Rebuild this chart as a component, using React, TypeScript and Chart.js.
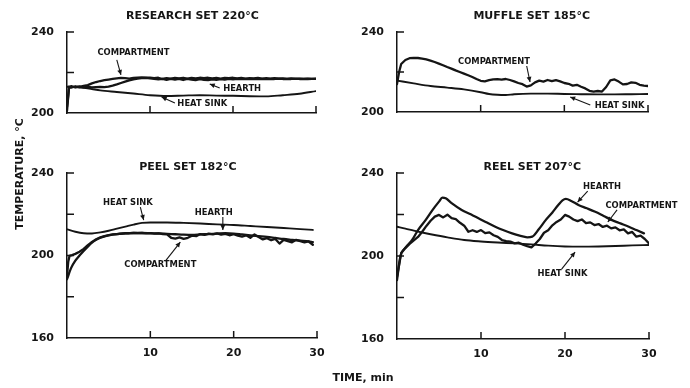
import { useEffect, useRef } from "react";
import { Chart, registerables } from "chart.js";
Chart.register(...registerables);

const FONT = '"DejaVu Sans", "Liberation Sans", sans-serif';
const INK = "#151515";

// ---------- shared tick values ----------
const xTickValues = [10, 20, 30];
const xLabelValues = [10, 20, 30];
const topYTicks = [220, 240];
const bottomYTicks = [180, 200, 220, 240];
const yLabelValues = [160, 200, 240];

// ---------- time bases (minutes) ----------
const halfMinuteTimes = [0, 0.25, 0.5, 1, 1.5, 2, 2.5, 3, 3.5, 4, 4.5, 5, 5.5, 6, 6.5, 7, 7.5, 8, 8.5, 9, 9.5, 10, 10.5, 11, 11.5, 12, 12.5, 13, 13.5, 14, 14.5, 15, 15.5, 16, 16.5, 17, 17.5, 18, 18.5, 19, 19.5, 20, 20.5, 21, 21.5, 22, 22.5, 23, 23.5, 24, 24.5, 25, 25.5, 26, 26.5, 27, 27.5, 28, 28.5, 29, 29.5, 30];

// ---------- RESEARCH SET 220°C ----------
const researchCompartment = [201, 213, 212.5, 213.2, 212.8, 213.4, 213.8, 214.6, 215.3, 215.8, 216.2, 216.5, 216.8, 217.1, 217.3, 217.2, 217.0, 217.3, 217.5, 217.6, 217.4, 217.5, 217.2, 217.4, 216.8, 217.2, 217.0, 217.3, 217.1, 217.4, 217.0, 217.3, 217.1, 217.4, 217.2, 217.4, 217.1, 217.3, 217.0, 217.3, 217.2, 217.4, 217.1, 217.3, 217.0, 217.2, 217.1, 217.3, 217.0, 217.2, 217.0, 217.2, 217.0, 217.1, 216.9, 217.1, 216.9, 217.0, 216.8, 217.0, 216.9, 217.0];
const researchHearth = [203, 212.5, 213.3, 212.6, 213.1, 212.7, 212.9, 212.6, 212.8, 212.9, 212.8, 213.0, 213.5, 214.1, 214.8, 215.5, 216.1, 216.6, 217.0, 217.2, 217.3, 217.1, 216.9, 216.6, 216.9, 216.4, 216.8, 216.5, 216.9, 216.3, 216.8, 216.5, 216.2, 216.7, 216.4, 216.2, 216.6, 216.4, 216.7, 216.5, 216.8, 216.6, 216.9, 216.7, 216.9, 216.7, 216.9, 216.8, 216.9, 216.7, 216.9, 216.8, 217.0, 216.8, 216.9, 216.8, 217.0, 216.8, 216.9, 216.8, 216.9, 216.9];
const researchSinkTime = [0, 0.3, 1, 2, 3, 4, 6, 8, 10, 12, 14, 16, 18, 20, 22, 24, 26, 28, 30];
const researchSink = [213, 213, 212.8, 212.4, 211.8, 211.2, 210.4, 209.6, 208.8, 208.4, 208.6, 208.8, 208.6, 208.5, 208.3, 208.2, 208.8, 209.5, 210.8];

// ---------- MUFFLE SET 185°C ----------
const muffleCompartment = [214, 220, 224, 226, 226.9, 227.1, 227.0, 226.7, 226.3, 225.7, 225.0, 224.2, 223.4, 222.5, 221.7, 220.8, 220.0, 219.2, 218.4, 217.5, 216.5, 215.6, 215.3, 215.9, 216.3, 216.4, 216.2, 216.5, 216.0, 215.3, 214.5, 213.9, 212.7, 213.3, 214.8, 215.7, 215.2, 216.0, 215.4, 215.9, 215.3, 214.5, 214.1, 213.2, 213.6, 212.6, 211.8, 210.6, 210.2, 210.5, 210.2, 212.5, 215.8, 216.3, 215.2, 213.8, 214.0, 214.8, 214.6, 213.6, 213.2, 213.0];
const muffleSinkTime = [0, 2, 4, 6, 8, 10, 11, 12, 13, 14, 16, 18, 20, 22, 24, 26, 28, 30];
const muffleSink = [215.7, 214.3, 213.0, 212.2, 211.3, 209.9, 209.0, 208.6, 208.5, 208.9, 209.2, 209.2, 209.0, 208.9, 208.8, 208.8, 208.9, 209.0];

// ---------- PEEL SET 182°C ----------
const peelSinkTime = [0, 1, 2, 3, 4, 5, 6, 7, 8, 9, 10, 12, 14, 16, 18, 20, 22, 24, 26, 28, 29.5];
const peelSink = [212.7, 211.5, 210.8, 210.7, 211.2, 212.0, 213.0, 214.0, 215.0, 215.8, 216.0, 216.0, 215.8, 215.5, 215.1, 214.8, 214.3, 213.8, 213.3, 212.8, 212.4];
const peelHearthTime = [0, 0.5, 1, 1.5, 2, 2.5, 3, 3.5, 4, 4.5, 5, 6, 7, 8, 9, 10, 11, 12, 13, 14, 15, 16, 17, 18, 19, 20, 21, 22, 23, 24, 25, 26, 27, 28, 29, 29.5];
const peelHearth = [188.5, 194, 197.5, 200, 202.2, 204.3, 206.2, 207.6, 208.6, 209.3, 209.8, 210.4, 210.7, 210.9, 210.9, 210.8, 210.7, 210.5, 210.3, 210.1, 210.0, 210.2, 210.4, 210.6, 210.8, 210.6, 210.2, 209.8, 209.4, 209.0, 208.5, 208.0, 207.6, 207.2, 206.8, 206.5];
const peelCompartmentTime = [0, 0.15, 0.3, 0.6, 1, 1.5, 2, 2.5, 3, 3.5, 4, 4.5, 5, 5.5, 6, 6.5, 7, 7.5, 8, 8.5, 9, 9.5, 10, 10.5, 11, 11.5, 12, 12.5, 13, 13.5, 14, 14.5, 15, 15.5, 16, 16.5, 17, 17.5, 18, 18.5, 19, 19.5, 20, 20.5, 21, 21.5, 22, 22.5, 23, 23.5, 24, 24.5, 25, 25.5, 26, 26.5, 27, 27.5, 28, 28.5, 29, 29.5];
const peelCompartment = [190, 197, 199.8, 200.2, 200.8, 201.8, 203.2, 205, 206.6, 207.9, 208.8, 209.4, 209.9, 210.2, 210.4, 210.6, 210.8, 210.8, 210.9, 210.8, 210.9, 210.7, 210.8, 210.6, 210.7, 210.4, 210.2, 208.6, 208.2, 208.8, 208.1, 208.6, 209.6, 209.4, 210.4, 210.0, 210.6, 210.2, 210.7, 210.1, 210.5, 209.8, 210.3, 209.6, 209.2, 209.8, 208.6, 210.2, 209.0, 207.8, 208.4, 207.4, 208.0, 205.8, 207.6, 207.0, 206.4, 207.6, 207.0, 206.4, 206.8, 205.2];

// ---------- REEL SET 207°C ----------
const reelHearthTime = [0, 0.4, 1, 1.8, 2.5, 3.4, 4.2, 5, 5.4, 5.8, 6.5, 7.7, 8.7, 9.7, 10.7, 11.7, 12.7, 13.7, 14.6, 15.5, 16.1, 16.9, 17.7, 18.5, 19.2, 19.7, 20.1, 20.8, 21.6, 22.6, 23.6, 24.6, 25.6, 26.6, 27.6, 28.5, 29.4];
const reelHearth = [188.4, 199.7, 204, 207.7, 212.5, 217.3, 222, 226.2, 228.1, 227.8, 225.5, 222.2, 220.2, 218.2, 216.1, 214.1, 212.4, 210.9, 209.8, 209.0, 209.3, 213, 217.3, 221, 224.6, 226.8, 227.5, 226.4, 224.6, 223.0, 221.3, 219.3, 217.3, 215.7, 214.1, 212.5, 210.9];
const reelCompartmentTime = [0, 0.5, 1, 1.5, 2, 2.5, 3, 3.5, 4, 4.5, 5, 5.5, 6, 6.5, 7, 7.5, 8, 8.5, 9, 9.5, 10, 10.5, 11, 11.5, 12, 12.5, 13, 13.5, 14, 14.5, 15, 15.5, 16, 16.5, 17, 17.5, 18, 18.5, 19, 19.5, 20, 20.5, 21, 21.5, 22, 22.5, 23, 23.5, 24, 24.5, 25, 25.5, 26, 26.5, 27, 27.5, 28, 28.5, 29, 29.5, 30];
const reelCompartment = [190, 201.4, 203.8, 205.8, 207.5, 209.2, 211.7, 214.5, 217.0, 219.0, 219.8, 218.6, 219.9, 218.2, 217.8, 216.0, 214.6, 211.7, 212.4, 211.6, 212.5, 211.0, 211.4, 210.0, 209.2, 207.7, 207.2, 206.9, 206.1, 206.4, 205.5, 204.8, 204.2, 206.0, 208.2, 211.2, 212.4, 214.8, 216.4, 217.6, 219.8, 219.0, 217.6, 216.8, 217.6, 215.8, 216.2, 214.9, 215.4, 214.0, 214.6, 213.3, 213.8, 212.4, 212.8, 210.9, 211.6, 209.3, 209.8, 208.2, 206.1];
const reelSinkTime = [0, 1, 2, 3, 4, 6, 8, 10, 12, 14, 16, 18, 20, 22, 24, 26, 28, 30];
const reelSink = [214.1, 213.2, 212.2, 211.3, 210.5, 209.0, 207.7, 207.0, 206.5, 206.1, 205.6, 205.0, 204.6, 204.5, 204.6, 204.8, 205.1, 205.3];

// ---------- panel definitions ----------
type Series = { t: number[]; v: number[]; width: number; smooth: boolean };
type Note = { text: string; at: [number, number]; from: [number, number]; to: [number, number] };
type Panel = {
  title: string;
  titleAt: [number, number];
  yMin: number;
  yMax: number;
  yTicks: number[];
  xLabels: boolean;
  area: { l: number; t: number; r: number; b: number };
  series: Series[];
  notes: Note[];
  axisTitles?: boolean;
};

const W = 690;
const H = 388;
const YW = 40;
const XH = 22;

const panels: Panel[] = [
  {
    title: "RESEARCH SET 220°C",
    titleAt: [15.1, 247.9],
    yMin: 200, yMax: 240, yTicks: topYTicks, xLabels: false,
    area: { l: 67, t: 32, r: 316, b: 113 },
    series: [
      { t: researchSinkTime, v: researchSink, width: 1.9, smooth: true },
      { t: halfMinuteTimes, v: researchHearth, width: 2.3, smooth: false },
      { t: halfMinuteTimes, v: researchCompartment, width: 2.3, smooth: false },
    ],
    notes: [
      { text: "COMPARTMENT", at: [8.0, 229.6], from: [6.0, 226.2], to: [6.5, 218.8] },
      { text: "HEARTH", at: [21.1, 211.9], from: [18.4, 212.4], to: [17.2, 214.3] },
      { text: "HEAT SINK", at: [16.3, 204.4], from: [13.0, 204.9], to: [11.4, 207.9] },
    ],
    axisTitles: true,
  },
  {
    title: "MUFFLE SET 185°C",
    titleAt: [16.1, 248],
    yMin: 200, yMax: 240, yTicks: topYTicks, xLabels: false,
    area: { l: 397, t: 32, r: 648, b: 112 },
    series: [
      { t: muffleSinkTime, v: muffleSink, width: 1.9, smooth: true },
      { t: halfMinuteTimes, v: muffleCompartment, width: 2.3, smooth: false },
    ],
    notes: [
      { text: "COMPARTMENT", at: [11.6, 225], from: [15.5, 223], to: [15.9, 215] },
      { text: "HEAT SINK", at: [26.6, 203], from: [23.1, 203.5], to: [20.7, 207.5] },
    ],
  },
  {
    title: "PEEL SET 182°C",
    titleAt: [14.5, 242.9],
    yMin: 160, yMax: 240, yTicks: bottomYTicks, xLabels: true,
    area: { l: 67, t: 173, r: 317, b: 338 },
    series: [
      { t: peelSinkTime, v: peelSink, width: 1.9, smooth: true },
      { t: peelHearthTime, v: peelHearth, width: 2.3, smooth: true },
      { t: peelCompartmentTime, v: peelCompartment, width: 2.3, smooth: false },
    ],
    notes: [
      { text: "HEAT SINK", at: [7.3, 225.5], from: [8.8, 223.5], to: [9.2, 217.2] },
      { text: "HEARTH", at: [17.6, 220.6], from: [18.7, 218.7], to: [18.7, 212.4] },
      { text: "COMPARTMENT", at: [11.2, 195.4], from: [11.8, 197.3], to: [13.6, 206.5] },
    ],
  },
  {
    title: "REEL SET 207°C",
    titleAt: [16.1, 242.9],
    yMin: 160, yMax: 240, yTicks: bottomYTicks, xLabels: true,
    area: { l: 397, t: 173, r: 649, b: 339 },
    series: [
      { t: reelSinkTime, v: reelSink, width: 1.9, smooth: true },
      { t: reelHearthTime, v: reelHearth, width: 2.3, smooth: true },
      { t: reelCompartmentTime, v: reelCompartment, width: 2.3, smooth: false },
    ],
    notes: [
      { text: "HEARTH", at: [24.4, 233.3], from: [22.7, 231.3], to: [21.5, 226] },
      { text: "COMPARTMENT", at: [29.1, 224.1], from: [26.2, 222.2], to: [25.1, 216.4] },
      { text: "HEAT SINK", at: [19.7, 191.3], from: [19.6, 193.7], to: [21.2, 201.9] },
    ],
  },
];

function makePlugin(p: Panel) {
  return {
    id: "panelDecor",
    afterDraw(chart: any) {
      const { ctx, chartArea } = chart;
      const xs = chart.scales.x;
      const ys = chart.scales.y;
      ctx.save();
      ctx.strokeStyle = INK;
      ctx.fillStyle = INK;
      ctx.lineWidth = 1.5;
      // inward ticks
      for (const v of p.yTicks) {
        const py = ys.getPixelForValue(v);
        ctx.beginPath();
        ctx.moveTo(chartArea.left, py);
        ctx.lineTo(chartArea.left + 7, py);
        ctx.stroke();
      }
      for (const t of xTickValues) {
        const px = xs.getPixelForValue(t);
        ctx.beginPath();
        ctx.moveTo(px, chartArea.bottom);
        ctx.lineTo(px, chartArea.bottom - 7);
        ctx.stroke();
      }
      // title
      ctx.font = `bold 11px ${FONT}`;
      ctx.textAlign = "center";
      ctx.textBaseline = "middle";
      ctx.fillText(p.title, xs.getPixelForValue(p.titleAt[0]), ys.getPixelForValue(p.titleAt[1]));
      // notes
      ctx.font = `bold 8.4px ${FONT}`;
      ctx.lineWidth = 1.1;
      for (const n of p.notes) {
        ctx.fillText(n.text, xs.getPixelForValue(n.at[0]), ys.getPixelForValue(n.at[1]));
        const x1 = xs.getPixelForValue(n.from[0]);
        const y1 = ys.getPixelForValue(n.from[1]);
        const x2 = xs.getPixelForValue(n.to[0]);
        const y2 = ys.getPixelForValue(n.to[1]);
        ctx.beginPath();
        ctx.moveTo(x1, y1);
        ctx.lineTo(x2, y2);
        ctx.stroke();
        const a = Math.atan2(y2 - y1, x2 - x1);
        const len = 5;
        const wid = 2.4;
        ctx.beginPath();
        ctx.moveTo(x2, y2);
        ctx.lineTo(x2 - len * Math.cos(a) + wid * Math.sin(a), y2 - len * Math.sin(a) - wid * Math.cos(a));
        ctx.lineTo(x2 - len * Math.cos(a) - wid * Math.sin(a), y2 - len * Math.sin(a) + wid * Math.cos(a));
        ctx.closePath();
        ctx.fill();
      }
      if (p.axisTitles) {
        ctx.font = `bold 11px ${FONT}`;
        ctx.textAlign = "center";
        ctx.textBaseline = "middle";
        ctx.fillText("TIME, min", 363, 378);
        ctx.save();
        ctx.translate(20, 174);
        ctx.rotate(-Math.PI / 2);
        ctx.fillText("TEMPERATURE, °C", 0, 0);
        ctx.restore();
      }
      ctx.restore();
    },
  };
}

function PanelChart({ p }: { p: Panel }) {
  const ref = useRef<HTMLCanvasElement | null>(null);
  useEffect(() => {
    if (!ref.current) return;
    const tickFont = { family: FONT, weight: "bold" as const, size: 11 };
    const chart = new Chart(ref.current, {
      type: "line",
      data: {
        datasets: p.series.map((s) => ({
          data: s.t.map((x, i) => ({ x, y: s.v[i] })),
          borderColor: INK,
          borderWidth: s.width,
          pointRadius: 0,
          fill: false,
          tension: s.smooth ? 0.4 : 0,
          cubicInterpolationMode: s.smooth ? ("monotone" as const) : ("default" as const),
          borderJoinStyle: "round" as const,
          borderCapStyle: "round" as const,
        })),
      },
      options: {
        animation: false,
        responsive: false,
        events: [],
        layout: {
          padding: {
            left: p.area.l - YW,
            top: p.area.t,
            right: W - p.area.r,
            bottom: H - p.area.b - (p.xLabels ? XH : 0),
          },
        },
        plugins: { legend: { display: false }, tooltip: { enabled: false }, title: { display: false } },
        scales: {
          x: {
            type: "linear",
            min: 0,
            max: 30,
            grid: { display: false },
            border: { display: true, color: INK, width: 1.5 },
            ticks: {
              display: p.xLabels,
              stepSize: 10,
              autoSkip: false,
              maxRotation: 0,
              padding: 1,
              color: INK,
              font: tickFont,
              callback: (v: any) => (xLabelValues.includes(Number(v)) ? String(v) : ""),
            },
            afterFit: (s: any) => {
              s.height = p.xLabels ? XH : 0;
            },
          },
          y: {
            min: p.yMin,
            max: p.yMax,
            grid: { display: false },
            border: { display: true, color: INK, width: 1.5 },
            ticks: {
              stepSize: 20,
              autoSkip: false,
              padding: 5,
              color: INK,
              font: tickFont,
              callback: (v: any) => (yLabelValues.includes(Number(v)) ? String(v) : ""),
            },
            afterFit: (s: any) => {
              s.width = YW;
            },
          },
        },
      },
      plugins: [makePlugin(p)],
    });
    return () => chart.destroy();
  }, [p]);
  return (
    <canvas
      ref={ref}
      width={W}
      height={H}
      style={{ position: "absolute", left: 0, top: 0, width: W, height: H }}
    />
  );
}

export default function App() {
  return (
    <div style={{ position: "absolute", left: 0, top: 0, width: W, height: H, background: "#fff" }}>
      {panels.map((p) => (
        <PanelChart key={p.title} p={p} />
      ))}
    </div>
  );
}
